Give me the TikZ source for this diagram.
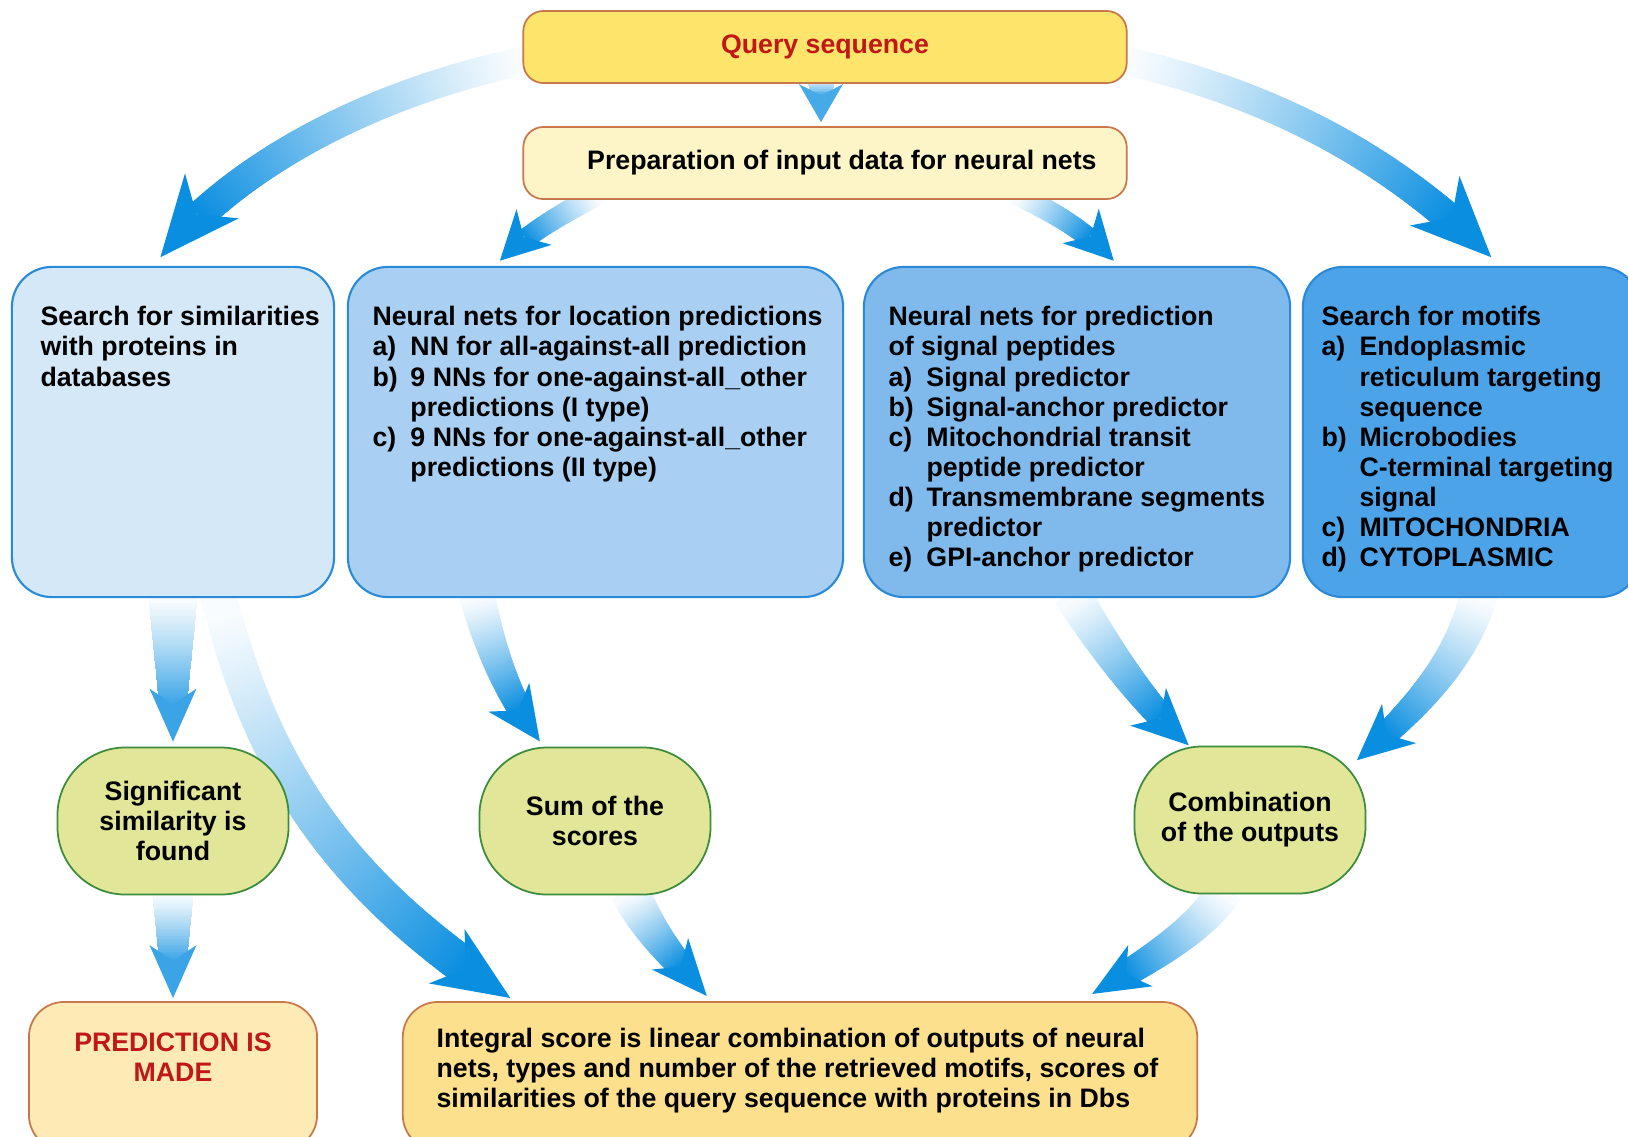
\documentclass[tikz,border=0pt]{standalone}
\usepackage{fontspec}
\setmainfont{Liberation Sans}
\usetikzlibrary{decorations.markings,backgrounds,calc}

\definecolor{flowblue}{HTML}{0A8EE0}
\definecolor{edgeblue}{HTML}{2A8AD8}
\definecolor{edgebrown}{HTML}{C8784A}
\definecolor{edgegreen}{HTML}{3C8C3C}
\definecolor{qfill}{HTML}{FDE46A}
\definecolor{pfill}{HTML}{FDF4C8}
\definecolor{bfillA}{HTML}{D5E8F8}
\definecolor{bfillB}{HTML}{A9CFF2}
\definecolor{bfillC}{HTML}{80B9EC}
\definecolor{bfillD}{HTML}{4CA3E8}
\definecolor{gfill}{HTML}{E1E699}
\definecolor{mfill}{HTML}{FDEAB4}
\definecolor{ifill}{HTML}{FDE08E}
\definecolor{txtred}{HTML}{C01818}

\newcommand\itemlbl[1]{\makebox[10.8pt][l]{#1}}
\newcommand\itemgap{\hspace*{10.8pt}}

\tikzset{
  txt/.style={font=\fontsize{7.6}{8.55}\selectfont\bfseries},
  topbox/.style={draw=edgebrown, line width=0.5pt, rounded corners=0.2cm,
    minimum width=6.03cm, minimum height=0.72cm, txt},
  netbox/.style={draw=edgeblue, line width=0.6pt, rounded corners=0.4cm,
    minimum height=3.3cm},
  netlist/.style={txt, align=left, inner sep=0pt, anchor=north west},
  roundstep/.style={draw=edgegreen, fill=gfill, line width=0.5pt,
    rounded corners=0.68cm, minimum width=2.31cm, minimum height=1.47cm,
    txt, align=center},
  endbox/.style={draw=edgebrown, line width=0.5pt, rounded corners=0.35cm,
    minimum height=1.48cm, txt},
  % #1,#2 body width at tail and head (cm), #3,#4 head length and width,
  % #5 strength of the blue at the head
  flow/.style n args={5}{
    postaction={decorate},
    decoration={markings,
      mark=between positions 0 and -0.7*#3 step 0.5pt with {
        \pgfmathsetmacro\fpos{\pgfkeysvalueof{/pgf/decoration/mark info/distance from start}/\pgfdecoratedpathlength}
        \pgfmathsetmacro\fend{1-0.7*#3/\pgfdecoratedpathlength}
        \pgfmathsetmacro\fcol{max(3,min(#5,#5*(\fpos/\fend)^1.2))}
        \pgfmathsetmacro\fhw{(#1+(#2-#1)*\fpos/\fend)/2}
        \fill[flowblue!\fcol!white] (-0.4pt,-\fhw cm) rectangle (0.4pt,\fhw cm);
      },
      mark=at position -1pt with {
        \fill[flowblue!#5!white] (1pt,0pt) -- (1pt-#3,0.5*#4)
          -- (1pt-0.7*#3,0pt) -- (1pt-#3,-0.5*#4) -- cycle;
      }
    }
  },
}

\begin{document}
\begin{tikzpicture}[x=0.01cm, y=-0.01cm]
  \useasboundingbox (0,0) rectangle (1628,1136);
  \clip (0,0) rectangle (1628,1136);

  \node[topbox, fill=qfill, text=txtred] (query) at (825,47) {Query sequence};
  \node[topbox, fill=pfill] (prep) at (825,163)
    {\hspace*{9.6pt}Preparation of input data for neural nets};

  \node[netbox, fill=bfillA, minimum width=3.22cm] (simbox) at (173,432) {};
  \node[netbox, fill=bfillB, minimum width=4.95cm] (locbox) at (595.5,432) {};
  \node[netbox, fill=bfillC, minimum width=4.26cm] (sigbox) at (1077,432) {};
  \node[netbox, fill=bfillD, minimum width=3.37cm] (motbox) at (1471.5,432) {};

  \node[netlist] (simtext) at ($(simbox.north west)+(29,40)$)
    {Search for similarities\\with proteins in\\databases};
  \node[netlist] (loctext) at ($(locbox.north west)+(25,40)$)
    {Neural nets for location predictions\\
     \itemlbl{a)}NN for all-against-all prediction\\
     \itemlbl{b)}9 NNs for one-against-all\_other\\
     \itemgap predictions (I type)\\
     \itemlbl{c)}9 NNs for one-against-all\_other\\
     \itemgap predictions (II type)};
  \node[netlist] (sigtext) at ($(sigbox.north west)+(25,40)$)
    {Neural nets for prediction\\of signal peptides\\
     \itemlbl{a)}Signal predictor\\
     \itemlbl{b)}Signal-anchor predictor\\
     \itemlbl{c)}Mitochondrial transit\\
     \itemgap peptide predictor\\
     \itemlbl{d)}Transmembrane segments\\
     \itemgap predictor\\
     \itemlbl{e)}GPI-anchor predictor};
  \node[netlist] (mottext) at ($(motbox.north west)+(19,40)$)
    {Search for motifs\\
     \itemlbl{a)}Endoplasmic\\
     \itemgap reticulum targeting\\
     \itemgap sequence\\
     \itemlbl{b)}Microbodies\\
     \itemgap C-terminal targeting\\
     \itemgap signal\\
     \itemlbl{c)}MITOCHONDRIA\\
     \itemlbl{d)}CYTOPLASMIC};

  \node[roundstep] (simfound) at (173,821) {Significant\\similarity is\\found};
  \node[roundstep] (sumscore) at (595,821) {Sum of the\\scores};
  \node[roundstep] (combout) at (1250,820) {Combination\\of the outputs};

  \node[endbox, fill=mfill, minimum width=2.88cm, text=txtred, align=center]
    (predmade) at (173,1076) {PREDICTION IS\\MADE\\[2pt]};
  \node[endbox, fill=ifill, minimum width=7.94cm] (integral) at (800,1076) {};
  \node[netlist] (inttext) at ($(integral.north west)+(34,26)$)
    {Integral score is linear combination of outputs of neural\\
     nets, types and number of the retrieved motifs, scores of\\
     similarities of the query sequence with proteins in Dbs};

  \begin{scope}[on background layer]
    \path[flow={0.28}{0.30}{0.8cm}{0.7cm}{100}] ($(query.west)+(10,12)$)
      .. controls (380,90) and (240,160) .. ($(simbox.north west)+(149,-8)$);
    \path[flow={0.28}{0.30}{0.8cm}{0.7cm}{100}] ($(query.east)+(-10,12)$)
      .. controls (1280,95) and (1400,165) .. ($(motbox.north west)+(190,-8)$);
    \path[flow={0.26}{0.24}{0.38cm}{0.44cm}{75}] ($(query.south)+(-4,-6)$)
      -- ($(prep.north)+(-4,-4)$);
    \path[flow={0.22}{0.2}{0.48cm}{0.5cm}{100}] ($(prep.south west)+(76,-6)$)
      .. controls (560,215) and (525,235) .. ($(locbox.north west)+(153,-5)$);
    \path[flow={0.22}{0.2}{0.48cm}{0.5cm}{100}] ($(prep.south east)+(-112,-6)$)
      .. controls (1060,215) and (1090,235) .. ($(sigbox.north west)+(251,-5)$);
    \path[flow={0.5}{0.28}{0.53cm}{0.47cm}{80}] ($(simbox.south)+(0,-4)$)
      -- ($(simfound.north)+(0,-5)$);
    \path[flow={0.36}{0.38}{0.76cm}{0.65cm}{100}] ($(simbox.south)+(45,-4)$)
      .. controls (260,760) and (330,880) .. ($(integral.north west)+(107,-4)$);
    \path[flow={0.36}{0.24}{0.54cm}{0.5cm}{100}] ($(locbox.south west)+(130,-4)$)
      .. controls (490,650) and (510,700) .. ($(sumscore.north)+(-55,-5)$);
    \path[flow={0.38}{0.26}{0.56cm}{0.52cm}{100}] ($(sigbox.south west)+(209,-4)$)
      .. controls (1100,640) and (1140,700) .. ($(combout.north)+(-61,0)$);
    \path[flow={0.38}{0.24}{0.56cm}{0.52cm}{100}] ($(motbox.south west)+(177,-4)$)
      .. controls (1462,660) and (1415,710) .. ($(combout.north east)+(-10,15)$);
    \path[flow={0.42}{0.28}{0.53cm}{0.47cm}{80}] ($(simfound.south)+(0,-4)$)
      -- ($(predmade.north)+(0,-3)$);
    \path[flow={0.4}{0.26}{0.56cm}{0.48cm}{100}] ($(sumscore.south)+(35,-4)$)
      .. controls (650,935) and (680,965) .. ($(integral.north west)+(305,-5)$);
    \path[flow={0.36}{0.26}{0.56cm}{0.48cm}{100}] ($(combout.south)+(-25,-4)$)
      .. controls (1200,930) and (1150,960) .. ($(integral.north west)+(690,-7)$);
  \end{scope}
\end{tikzpicture}
\end{document}
